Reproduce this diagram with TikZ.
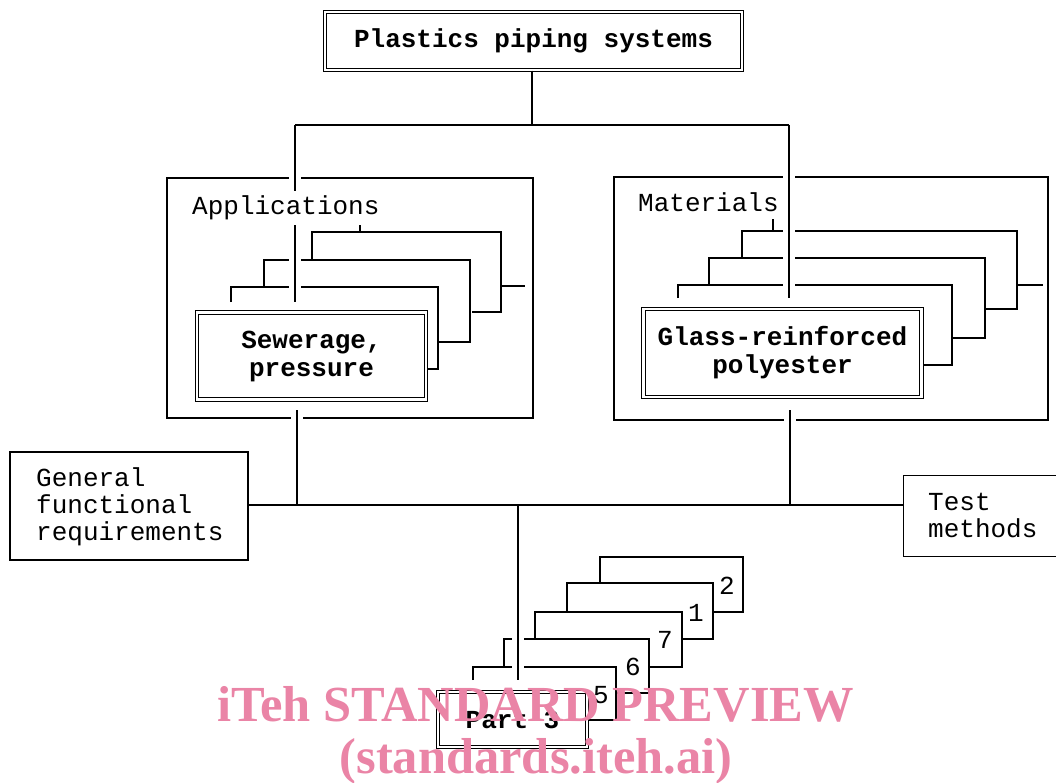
\documentclass[tikz,border=0pt]{standalone}
\usepackage{fontspec}
\setmonofont{Liberation Mono}
\newfontfamily\wmfont{Liberation Serif}
\definecolor{wmpink}{RGB}{234,132,166}
\tikzset{
  ln/.style={line width=1.4pt},
  halo/.style={ln, preaction={draw=white, line width=12pt}},
  plainbox/.style={draw, line width=1.4pt, inner sep=0pt},
  dbox/.style={draw, line width=1.3pt, double=white, double distance=2.2pt, inner sep=0pt,
    font=\fontsize{26}{28}\selectfont\ttfamily\bfseries, align=center},
  txt/.style={font=\fontsize{26}{27}\selectfont\ttfamily, inner sep=0pt},
  wm/.style={font=\fontsize{50.5}{52}\selectfont\wmfont\bfseries, text=wmpink, inner sep=0pt}
}
\begin{document}
\begin{tikzpicture}[x=1pt,y=-1pt]
\useasboundingbox[fill=white] (0,0) rectangle (1056,783);

% top box
\node[dbox, minimum width=417pt, minimum height=58pt] (top) at (533.5,41) {Plastics piping systems};
\coordinate (j1) at (532,125);
\coordinate (jl) at (295,125);
\coordinate (jr) at (789,125);

% Applications frame
\node[plainbox, minimum width=366pt, minimum height=240pt] (app) at (350,298) {};
% Materials frame
\node[plainbox, minimum width=434pt, minimum height=243pt] (mat) at (831,298.5) {};

% Application cards
\draw[ln] (312,260) -- (312,232) -- (501,232) -- (501,312) -- (472,312);
\draw[ln] (360,232) -- (360,222);
\draw[ln] (501,286) -- (525,286);
\draw[ln] (264,287) -- (264,260) -- (470,260) -- (470,342) -- (439,342);
\draw[ln] (231,302) -- (231,287) -- (438,287) -- (438,369) -- (428,369);
\node[dbox, fill=white, minimum width=229pt, minimum height=87pt] (sew) at (311.5,356) {Sewerage,\\pressure};

% Material cards
\draw[ln] (742,258) -- (742,231) -- (1017,231) -- (1017,309) -- (985,309);
\draw[ln] (773,231) -- (773,219);
\draw[ln] (1017,285) -- (1043,285);
\draw[ln] (709,285) -- (709,258) -- (985,258) -- (985,338) -- (952,338);
\draw[ln] (678,298) -- (678,285) -- (952,285) -- (952,365) -- (924,365);
\node[dbox, fill=white, minimum width=278pt, minimum height=88pt] (glass) at (782.5,353) {Glass-reinforced\\polyester};

% verticals down from top bus (with gaps)
\coordinate (al) at (295,302);
\coordinate (mr) at (789,298);
\draw[halo] (jl) -- (al);
\draw[halo] (jr) -- (mr);
\draw[ln] (top.south -| j1) -- (j1);
\draw[ln] (jl) -- (jr);

% labels
\node[txt, anchor=base west, fill=white, inner xsep=2pt, inner ysep=5pt] (applab) at (190,215) {Applications};
\node[txt, anchor=base west, fill=white, inner xsep=1pt, inner ysep=2pt] (matlab) at (637,212) {Materials};

% side boxes
\node[plainbox, minimum width=238pt, minimum height=108pt] (gen) at (129,506) {};
\node[txt, anchor=west, align=left] (gentext) at (36,507) {General\\functional\\requirements};
\node[plainbox, minimum width=160pt, minimum height=81pt, anchor=north west] (test) at (903,475) {};
\node[txt, anchor=west, align=left] (testtext) at (928,516) {Test\\methods};

% main bus
\coordinate (ja) at (297,505);
\coordinate (jm) at (790,505);
\coordinate (jp) at (518,505);
\draw[halo] (ja) -- (297,410);
\draw[halo] (jm) -- (790,410);

% part cards
\draw[ln] (600,583) -- (600,557) -- (743,557) -- (743,612) -- (713,612);
\draw[ln] (567,612) -- (567,583) -- (713,583) -- (713,639) -- (682,639);
\draw[ln] (535,639) -- (535,612) -- (682,612) -- (682,667) -- (650,667);
\draw[ln] (504,667) -- (504,639) -- (649,639) -- (649,693) -- (617,693);
\draw[ln] (473,680) -- (473,667) -- (616,667) -- (616,720) -- (589,720);
\node[txt, anchor=base] (n2) at (727,594) {2};
\node[txt, anchor=base] (n1) at (696,621) {1};
\node[txt, anchor=base] (n7) at (665,648) {7};
\node[txt, anchor=base] (n6) at (633,675) {6};
\node[txt, anchor=base] (n5) at (601,703) {5};
\node[dbox, fill=white, minimum width=149pt, minimum height=55pt] (part) at (512.5,719.5) {Part 3};
\coordinate (pe) at (518,680);
\draw[halo] (jp) -- (pe);
\draw[ln] (gen.east |- ja) -- (test.west |- ja);

% watermark
\node[wm, anchor=base] (wm1) at (535.5,721) {iTeh STANDARD PREVIEW};
\node[wm, anchor=base] (wm2) at (536,773) {(standards.iteh.ai)};
\end{tikzpicture}
\end{document}
